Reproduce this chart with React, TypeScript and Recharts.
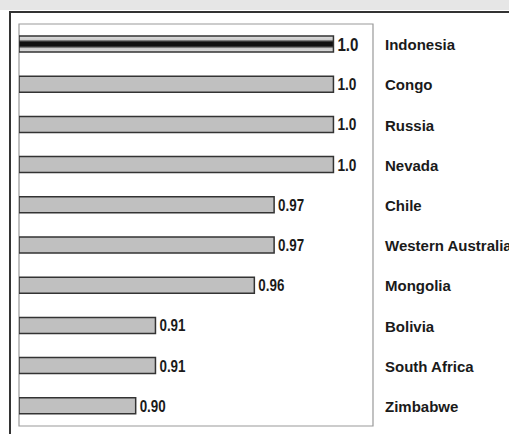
import { BarChart, Bar, XAxis, YAxis, Cell, LabelList, ReferenceArea } from 'recharts'

const regions = [
  'Indonesia',
  'Congo',
  'Russia',
  'Nevada',
  'Chile',
  'Western Australia',
  'Mongolia',
  'Bolivia',
  'South Africa',
  'Zimbabwe',
]
const scores = [1.0, 1.0, 1.0, 1.0, 0.97, 0.97, 0.96, 0.91, 0.91, 0.9]

const data = regions.map((name, i) => ({ name, score: scores[i] }))

const FONT = "'Liberation Sans Narrow', 'Arial Narrow', 'Liberation Sans', Arial, sans-serif"

const fmt = (v: number) => (v === 1 ? '1.0' : v.toFixed(2))

// value label right of each bar, the highlighted row gets a bigger one
function ValueLabel(props: any) {
  const { x, y, width, height, value, index } = props
  const big = index === 0
  return (
    <text
      x={x + width + 4}
      y={y + height / 2}
      dy={big ? 7 : 6}
      fontSize={big ? 18 : 16}
      fontWeight="bold"
      fontFamily={FONT}
      fill="#1a1a1a"
      textLength={big ? 21 : value === 1 ? 19 : 26}
      lengthAdjust="spacingAndGlyphs"
    >
      {fmt(value)}
    </text>
  )
}

function RegionTick(props: any) {
  const { x, y, payload } = props
  return (
    <text x={x + 4} y={y} dy={6} fontSize={15} fontWeight="bold" fontFamily={FONT} fill="#1a1a1a">
      {payload.value}
    </text>
  )
}

export default function App() {
  return (
    <div style={{ position: 'absolute', left: 0, top: 0, width: 509, height: 434, background: '#fff', overflow: 'hidden' }}>
      {/* page header strip + outer frame */}
      <div style={{ position: 'absolute', left: 0, top: 0, width: 509, height: 10, background: '#e6e6e6' }} />
      <div
        style={{
          position: 'absolute',
          left: 9,
          top: 11,
          width: 520,
          height: 440,
          borderLeft: '2px solid #333',
          borderTop: '2px solid #333',
        }}
      />
      <div style={{ position: 'absolute', left: 0, top: 0 }}>
        <BarChart
          width={509}
          height={434}
          data={data}
          layout="vertical"
          margin={{ top: 24, right: 0, bottom: 8, left: 19 }}
          barSize={16}
        >
          <defs>
            <linearGradient id="stripe" x1="0" y1="0" x2="0" y2="1">
              <stop offset="0%" stopColor="#ddd" />
              <stop offset="22%" stopColor="#ccc" />
              <stop offset="30%" stopColor="#666" />
              <stop offset="38%" stopColor="#111" />
              <stop offset="62%" stopColor="#111" />
              <stop offset="70%" stopColor="#666" />
              <stop offset="78%" stopColor="#ccc" />
              <stop offset="100%" stopColor="#ddd" />
            </linearGradient>
          </defs>
          <XAxis type="number" domain={[0.841, 1.02]} allowDataOverflow hide />
          <YAxis yAxisId="left" type="category" dataKey="name" tick={false} tickLine={false} axisLine={{ stroke: '#333', strokeWidth: 1.5 }} width={0} />
          <YAxis
            yAxisId="right"
            orientation="right"
            type="category"
            dataKey="name"
            tickLine={false}
            axisLine={false}
            width={136}
            tick={<RegionTick />}
          />
          <ReferenceArea yAxisId="right" x1={0.841} x2={1.02} fill="none" stroke="#999" strokeWidth={1.2} />
          <Bar yAxisId="right" dataKey="score" stroke="#333" strokeWidth={1.5} isAnimationActive={false}>
            {data.map((d, i) => (
              <Cell key={d.name} fill={i === 0 ? 'url(#stripe)' : '#c0c0c0'} />
            ))}
            <LabelList dataKey="score" content={<ValueLabel />} />
          </Bar>
        </BarChart>
      </div>
    </div>
  )
}
